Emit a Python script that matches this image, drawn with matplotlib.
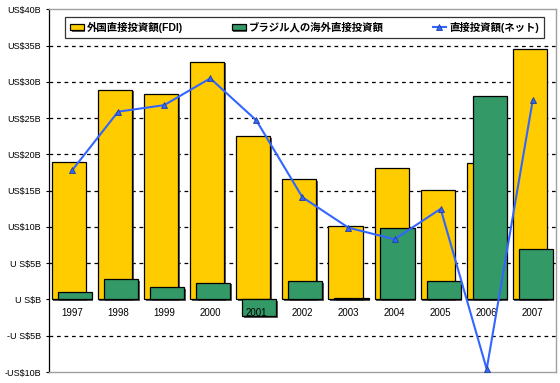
import numpy as np
import matplotlib
matplotlib.use("Agg")
import matplotlib.pyplot as plt
import matplotlib.patheffects as pe

plt.rcParams["font.family"] = ["Liberation Sans", "Noto Sans CJK JP", "DejaVu Sans"]

# data (US$ billions)
years = ["1997", "1998", "1999", "2000", "2001", "2002", "2003", "2004", "2005", "2006", "2007"]
fdi_in = [19.0, 28.9, 28.4, 32.8, 22.5, 16.6, 10.1, 18.1, 15.1, 18.8, 34.6]
fdi_out = [1.1, 2.8, 1.7, 2.3, -2.3, 2.5, 0.2, 9.8, 2.5, 28.1, 7.0]
fdi_net = [17.8, 25.9, 26.8, 30.5, 24.7, 14.1, 9.9, 8.3, 12.5, -9.6, 27.5]

labels = ["外国直接投資額(FDI)", "ブラジル人の海外直接投資額", "直接投資額(ネット)"]
yticks = [40, 35, 30, 25, 20, 15, 10, 5, 0, -5, -10]
ytick_labels = ["US$40B", "US$35B", "US$30B", "US$25B", "US$20B", "US$15B",
                "US$10B", "U S$5B", "U S$B", "-U S$5B", "-US$10B"]

fig = plt.figure(figsize=(5.6, 3.83), dpi=100)
ax = fig.add_axes([0.0875, 0.0287, 0.905, 0.9467])

x = np.arange(len(years))
w = 0.74
shadow = [pe.SimplePatchShadow(offset=(1.0, -1.0), shadow_rgbFace="#333333", alpha=0.8), pe.Normal()]

for v in [35, 30, 25, 20, 15, 10, 5, -5]:
    ax.axhline(v, color="black", lw=0.9, ls=(0, (3, 3)), zorder=0)

b1 = ax.bar(x - 0.065, fdi_in, w, color="#FFCC00", edgecolor="black", lw=0.9,
            label=labels[0], zorder=2)
b2 = ax.bar(x + 0.065, fdi_out, w, color="#339966", edgecolor="black", lw=0.9,
            label=labels[1], zorder=3)
for b in list(b1) + list(b2):
    b.set_path_effects(shadow)

ln, = ax.plot(x, fdi_net, color="#3366FF", lw=1.5, marker="^", ms=5,
              markerfacecolor="#3366FF", markeredgecolor="#1f3f99", markeredgewidth=0.6,
              label=labels[2], zorder=5)

for i, yr in enumerate(years):
    ax.text(i, -1.9, yr, ha="center", va="center", fontsize=7, zorder=4)

ax.set_xlim(-0.5, len(years) - 0.5)
ax.set_ylim(-10, 40)
ax.set_xticks([])
ax.set_yticks(yticks)
ax.set_yticklabels(ytick_labels, fontsize=6.5)
ax.tick_params(axis="y", length=2.5, width=0.8, pad=3)

for s in ["top", "right", "bottom"]:
    ax.spines[s].set_color("#a0a0a0")
    ax.spines[s].set_linewidth(1.0)
ax.spines["left"].set_color("black")
ax.spines["left"].set_linewidth(0.9)

# legend box stretched across the top, like the original
leg = ax.legend([b1, b2, ln], labels, loc="lower left",
                bbox_to_anchor=(0.032, 0.921, 0.945, 0.064), mode="expand",
                ncol=3, fontsize=7.5, frameon=True, fancybox=False, edgecolor="black",
                handlelength=1.3, handleheight=0.6, handletextpad=0.3,
                columnspacing=2.0, borderpad=0.5, borderaxespad=0)
leg.get_frame().set_linewidth(0.9)
leg.set_zorder(10)
for t in leg.get_texts():
    t.set_fontweight("bold")

fig.savefig("out.png", dpi=100)
